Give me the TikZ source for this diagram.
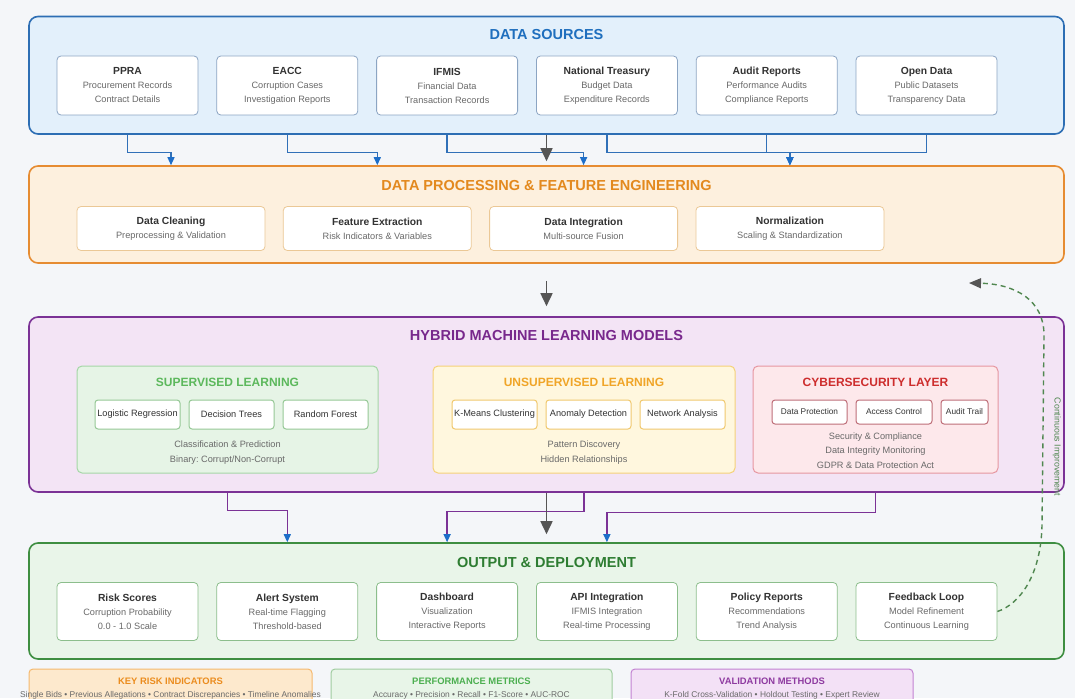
\documentclass[tikz,border=0pt]{standalone}
\usepackage{fontspec}
\setmainfont{Liberation Sans}
\usepackage{tikz}
\usetikzlibrary{
    positioning,
    arrows.meta
}
\definecolor{PageBg}{RGB}{244,246,249}
\definecolor{TextDark}{RGB}{51,51,51}
\definecolor{TextGray}{RGB}{105,105,105}
\definecolor{SrcBlue}{RGB}{45,110,180}
\definecolor{SrcFill}{RGB}{227,240,251}
\definecolor{SrcTitle}{RGB}{31,111,190}
\definecolor{SrcEdge}{RGB}{140,165,195}
\definecolor{ProcOrange}{RGB}{230,140,50}
\definecolor{ProcFill}{RGB}{253,240,222}
\definecolor{ProcTitle}{RGB}{227,137,30}
\definecolor{ProcEdge}{RGB}{235,200,150}
\definecolor{MlPurple}{RGB}{123,50,150}
\definecolor{MlFill}{RGB}{243,228,245}
\definecolor{MlTitle}{RGB}{120,40,140}
\definecolor{SupEdge}{RGB}{165,214,167}
\definecolor{SupFill}{RGB}{230,244,230}
\definecolor{SupTitle}{RGB}{92,184,92}
\definecolor{SupBox}{RGB}{150,200,150}
\definecolor{UnsEdge}{RGB}{245,210,120}
\definecolor{UnsFill}{RGB}{255,247,222}
\definecolor{UnsTitle}{RGB}{240,165,40}
\definecolor{UnsBox}{RGB}{240,200,110}
\definecolor{CybEdge}{RGB}{230,150,160}
\definecolor{CybFill}{RGB}{253,232,235}
\definecolor{CybTitle}{RGB}{205,45,45}
\definecolor{CybBox}{RGB}{190,110,120}
\definecolor{OutGreen}{RGB}{62,142,65}
\definecolor{OutFill}{RGB}{233,245,233}
\definecolor{OutTitle}{RGB}{46,125,50}
\definecolor{OutEdge}{RGB}{140,190,140}
\definecolor{ArrowBlue}{RGB}{30,110,200}
\definecolor{LineBlue}{RGB}{48,112,184}
\definecolor{ArrowGray}{RGB}{85,85,85}
\definecolor{LoopGreen}{RGB}{80,135,80}
\definecolor{KriFill}{RGB}{253,233,205}
\definecolor{KriEdge}{RGB}{245,185,110}
\definecolor{KriTitle}{RGB}{235,140,30}
\definecolor{PmFill}{RGB}{232,245,232}
\definecolor{PmEdge}{RGB}{160,205,160}
\definecolor{PmTitle}{RGB}{76,175,80}
\definecolor{VmFill}{RGB}{243,225,246}
\definecolor{VmEdge}{RGB}{195,130,210}
\definecolor{VmTitle}{RGB}{142,58,160}

\newcommand{\cardtitle}[1]{{\fontsize{10.3}{14}\selectfont\bfseries\color{TextDark}#1}}

\begin{document}
\frenchspacing
\begin{tikzpicture}[x=1pt, y=-1pt,
    section/.style={draw, rounded corners=9pt, line width=1.6pt, minimum width=1035pt},
    sectitle/.style={font=\fontsize{14.5}{16}\selectfont\bfseries},
    card/.style={draw, fill=white, rounded corners=4pt, line width=0.8pt, align=center, text=TextGray, inner sep=1pt, font=\fontsize{9.2}{14}\selectfont},
    srccard/.style={card, draw=SrcEdge, minimum width=141pt, minimum height=59pt},
    proccard/.style={card, draw=ProcEdge, minimum width=188pt, minimum height=44pt},
    outcard/.style={card, draw=OutEdge, minimum width=141pt, minimum height=58pt},
    group/.style={draw, rounded corners=5pt, line width=1pt, minimum width=301pt, minimum height=107pt},
    grptitle/.style={font=\fontsize{12}{14}\selectfont\bfseries},
    algo/.style={draw, fill=white, rounded corners=3pt, line width=1pt, minimum width=85pt, minimum height=29pt, inner sep=1pt, text=TextDark, font=\fontsize{9.2}{11}\selectfont},
    secbox/.style={draw=CybBox, fill=white, rounded corners=3pt, line width=1pt, minimum height=24pt, inner sep=1pt, text=TextDark, font=\fontsize{8.3}{10}\selectfont},
    grpnote/.style={align=center, text=TextGray, font=\fontsize{9.2}{15}\selectfont},
    legbox/.style={draw, rounded corners=4pt, line width=1pt, minimum height=41pt},
    legtitle/.style={font=\fontsize{9.4}{11}\selectfont\bfseries},
    legtext/.style={text=TextGray, font=\fontsize{8.4}{10}\selectfont},
    flow/.style={draw=LineBlue, line width=1.3pt, -{Triangle[length=8pt, width=7pt, color=ArrowBlue]}},
    mlflow/.style={draw=MlPurple, line width=1.3pt, -{Triangle[length=8pt, width=7pt, color=ArrowBlue]}},
    mainflow/.style={draw=ArrowGray, line width=1.6pt, -{Triangle[length=13pt, width=12pt]}},
    loopback/.style={draw=LoopGreen, line width=1.4pt, dash pattern=on 5pt off 4pt, -{Triangle[length=12pt, width=10pt, color=ArrowGray]}}
]
\useasboundingbox (0,0) rectangle (1075,698);
\clip (0,0) rectangle (1075,698);
\fill[PageBg] (0,0) rectangle (1075,698);

\node[section, draw=SrcBlue, fill=SrcFill, minimum height=117.5pt] (sources) at (546.5,75.25) {};
\node[sectitle, text=SrcTitle] (srctitle) at (546.5,34.5) {DATA SOURCES};
\node[srccard] (ppra) at (127.5,85.5) {\cardtitle{PPRA}\\Procurement Records\\Contract Details};
\node[srccard, right=18pt of ppra] (eacc) {\cardtitle{EACC}\\Corruption Cases\\Investigation Reports};
\node[srccard, right=18pt of eacc] (ifmis) {\cardtitle{IFMIS}\\Financial Data\\Transaction Records};
\node[srccard, right=18pt of ifmis] (treasury) {\cardtitle{National Treasury}\\Budget Data\\Expenditure Records};
\node[srccard, right=18pt of treasury] (audit) {\cardtitle{Audit Reports}\\Performance Audits\\Compliance Reports};
\node[srccard, right=18pt of audit] (opendata) {\cardtitle{Open Data}\\Public Datasets\\Transparency Data};

\node[section, draw=ProcOrange, fill=ProcFill, minimum height=97pt] (proc) at (546.5,214.5) {};
\node[sectitle, text=ProcTitle] (proctitle) at (546.5,186) {DATA PROCESSING \& FEATURE ENGINEERING};
\node[proccard] (cleaning) at (171,228.5) {\cardtitle{Data Cleaning}\\Preprocessing \& Validation};
\node[proccard, right=17.5pt of cleaning] (extract) {\cardtitle{Feature Extraction}\\Risk Indicators \& Variables};
\node[proccard, right=17.5pt of extract] (integrate) {\cardtitle{Data Integration}\\Multi-source Fusion};
\node[proccard, right=17.5pt of integrate] (normal) {\cardtitle{Normalization}\\Scaling \& Standardization};

\node[section, draw=MlPurple, fill=MlFill, minimum height=175pt] (ml) at (546.5,404.5) {};
\node[sectitle, text=MlTitle] (mltitle) at (546.5,336) {HYBRID MACHINE LEARNING MODELS};

\node[group, draw=SupEdge, fill=SupFill] (supgrp) at (227.5,419.5) {};
\node[grptitle, text=SupTitle] (suptitle) at (227.5,382) {SUPERVISED LEARNING};
\node[algo, draw=SupBox] (logreg) at (137.5,414.5) {Logistic Regression};
\node[algo, draw=SupBox, right=8pt of logreg] (dtree) {Decision Trees};
\node[algo, draw=SupBox, right=8pt of dtree] (rforest) {Random Forest};
\node[grpnote] (supnote) at (227.5,453) {Classification \& Prediction\\Binary: Corrupt/Non-Corrupt};

\node[group, draw=UnsEdge, fill=UnsFill, minimum width=302pt] (unsgrp) at (584,419.5) {};
\node[grptitle, text=UnsTitle] (unstitle) at (584,382) {UNSUPERVISED LEARNING};
\node[algo, draw=UnsBox] (kmeans) at (494.5,414.5) {K-Means Clustering};
\node[algo, draw=UnsBox, right=8pt of kmeans] (anomaly) {Anomaly Detection};
\node[algo, draw=UnsBox, right=8pt of anomaly] (network) {Network Analysis};
\node[grpnote] (unsnote) at (584,453) {Pattern Discovery\\Hidden Relationships};

\node[group, draw=CybEdge, fill=CybFill, minimum width=245pt] (cybgrp) at (875.5,419.5) {};
\node[grptitle, text=CybTitle] (cybtitle) at (875.5,382) {CYBERSECURITY LAYER};
\node[secbox, minimum width=75pt] (dataprot) at (809.5,412) {Data Protection};
\node[secbox, minimum width=76pt, right=8pt of dataprot] (access) {Access Control};
\node[secbox, minimum width=47pt, right=8pt of access] (trail) {Audit Trail};
\node[grpnote, font=\fontsize{9.2}{14.5}\selectfont] (cybnote) at (875.5,450.5) {Security \& Compliance\\Data Integrity Monitoring\\GDPR \& Data Protection Act};

\node[section, draw=OutGreen, fill=OutFill, minimum height=116pt] (output) at (546.5,601) {};
\node[sectitle, text=OutTitle] (outtitle) at (546.5,563) {OUTPUT \& DEPLOYMENT};
\node[outcard] (risk) at (127.5,611.5) {\cardtitle{Risk Scores}\\Corruption Probability\\0.0 - 1.0 Scale};
\node[outcard, right=18pt of risk] (alert) {\cardtitle{Alert System}\\Real-time Flagging\\Threshold-based};
\node[outcard, right=18pt of alert] (dashboard) {\cardtitle{Dashboard}\\Visualization\\Interactive Reports};
\node[outcard, right=18pt of dashboard] (api) {\cardtitle{API Integration}\\IFMIS Integration\\Real-time Processing};
\node[outcard, right=18pt of api] (policy) {\cardtitle{Policy Reports}\\Recommendations\\Trend Analysis};
\node[outcard, right=18pt of policy] (feedback) {\cardtitle{Feedback Loop}\\Model Refinement\\Continuous Learning};

\node[legbox, draw=KriEdge, fill=KriFill, minimum width=283pt] (kribox) at (170.5,689.5) {};
\node[legtitle, text=KriTitle] (krititle) at (170.5,681) {KEY RISK INDICATORS};
\node[legtext] (kritext) at (170.5,695.5) {Single Bids • Previous Allegations • Contract Discrepancies • Timeline Anomalies};
\node[legbox, draw=PmEdge, fill=PmFill, minimum width=281pt] (pmbox) at (471.5,689.5) {};
\node[legtitle, text=PmTitle] (pmtitle) at (471.5,681) {PERFORMANCE METRICS};
\node[legtext] (pmtext) at (471.5,695.5) {Accuracy • Precision • Recall • F1-Score • AUC-ROC};
\node[legbox, draw=VmEdge, fill=VmFill, minimum width=282pt] (vmbox) at (772,689.5) {};
\node[legtitle, text=VmTitle] (vmtitle) at (772,681) {VALIDATION METHODS};
\node[legtext] (vmtext) at (772,695.5) {K-Fold Cross-Validation • Holdout Testing • Expert Review};

\draw[flow] (ppra |- sources.south) -- ++(0,18) -| (cleaning |- proc.north);
\draw[flow] (eacc |- sources.south) -- ++(0,18) -| (extract |- proc.north);
\draw[flow] (ifmis |- sources.south) -- ++(0,18) -| (integrate |- proc.north);
\draw[flow] (treasury |- sources.south) -- ++(0,18) -| (normal |- proc.north);
\draw[flow] (audit |- sources.south) -- ++(0,18) -| (normal |- proc.north);
\draw[flow] (opendata |- sources.south) -- ++(0,18) -| (normal |- proc.north);
\draw[mainflow, shorten >=4pt] (sources.south) -- (proc.north);

\draw[mainflow, shorten <=17pt, shorten >=10pt] (proc.south) -- (ml.north);

\draw[mlflow] (supgrp |- ml.south) -- ++(0,18) -| (alert |- output.north);
\draw[mlflow] (unsgrp |- ml.south) -- ++(0,19) -| (dashboard |- output.north);
\draw[mlflow] (cybgrp |- ml.south) -- ++(0,20) -| (api |- output.north);
\draw[mainflow, shorten >=8pt] (ml.south) -- (output.north);

\coordinate (loopend) at (969,283);
\draw[loopback] (feedback.east) .. controls (1020,604) and (1041,575) .. (1042,525) -- (1044,335) .. controls (1044,300) and (1015,284) .. (loopend);
\node[rotate=-90, text=LoopGreen, font=\fontsize{8.8}{10}\selectfont] (looptext) at (1057,447) {Continuous Improvement};
\end{tikzpicture}
\end{document}
